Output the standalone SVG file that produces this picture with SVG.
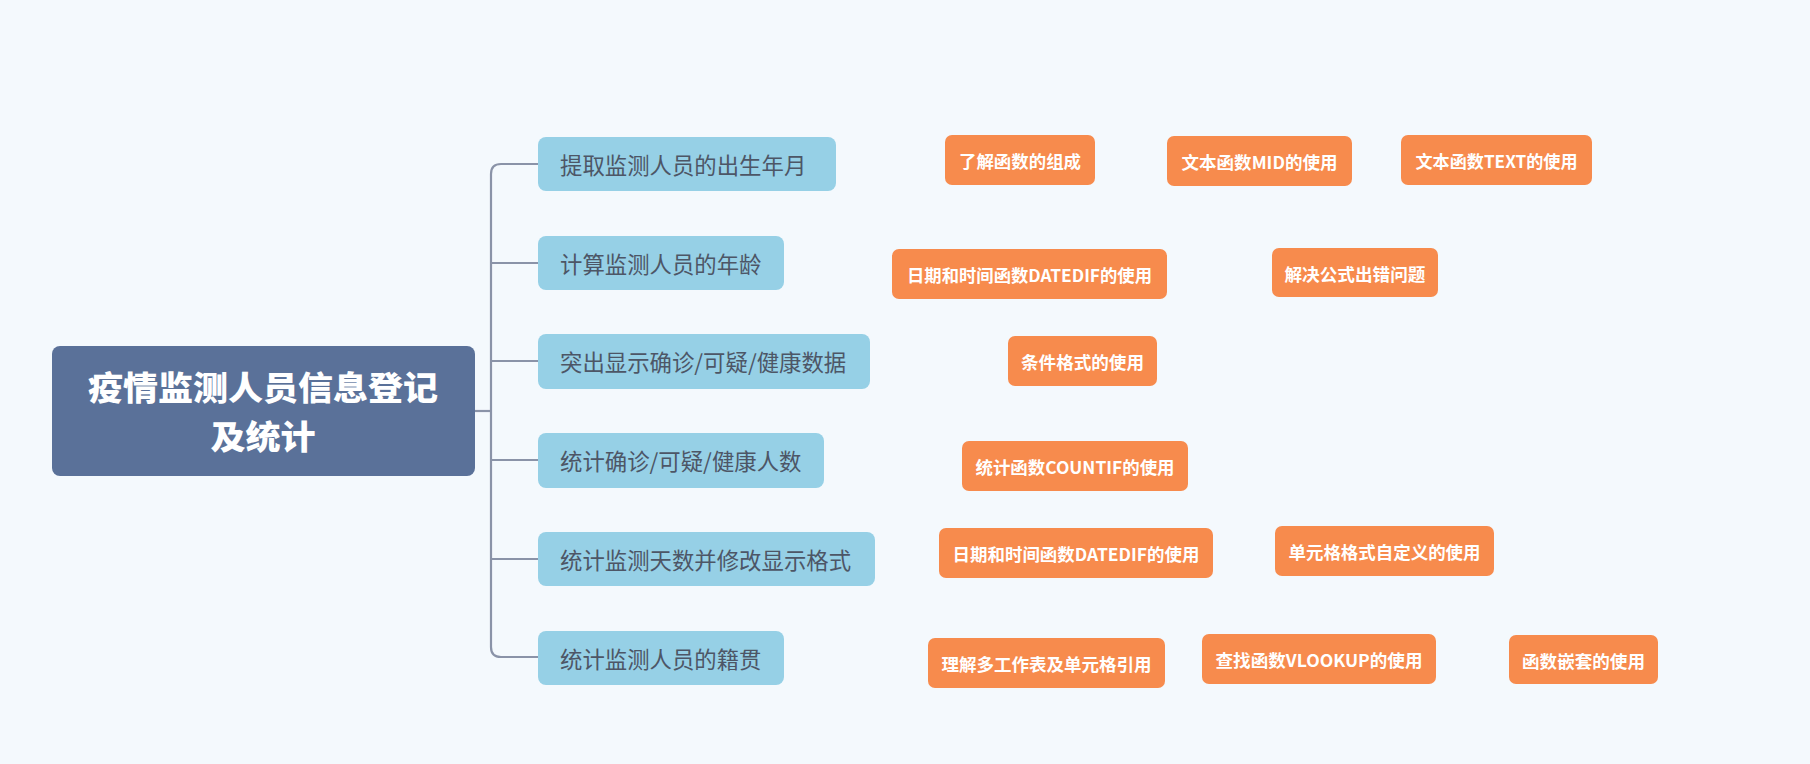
<svg xmlns="http://www.w3.org/2000/svg" width="1810" height="764" viewBox="0 0 1810 764">
<style>
.bg{fill:#f4f9fd}
.root rect{fill:#5a7199}
.root text{fill:#ffffff;font-family:"Noto Sans CJK SC","Noto Sans",sans-serif;font-weight:900;font-size:33px;text-anchor:middle;dominant-baseline:central}
.sub rect{fill:#96d0e6}
.sub text{fill:#4d5666;font-family:"Noto Sans CJK SC","Noto Sans",sans-serif;font-size:22.4px;dominant-baseline:central}
.tip rect{fill:#f78b4d}
.tip text{fill:#ffffff;font-family:"Noto Sans CJK SC","Noto Sans",sans-serif;font-weight:bold;font-size:17.5px;text-anchor:middle;dominant-baseline:central}
.conn path{fill:none;stroke:#8a93a8;stroke-width:2.2}
</style>
<rect class="bg" x="0" y="0" width="1810" height="764"/>
<g class="conn" id="connectors">
<path d="M475 411 H491"/>
<path d="M501 164 H538 M501 164 Q491 164 491 174 V647 Q491 657 501 657 H538"/>
<path d="M491 263 H538"/>
<path d="M491 361 H538"/>
<path d="M491 460 H538"/>
<path d="M491 559 H538"/>
</g>
<g class="root" id="root">
<rect x="52" y="346" width="423" height="130" rx="8"/>
<text x="263" y="386" textLength="350" lengthAdjust="spacingAndGlyphs">疫情监测人员信息登记</text>
<text x="263" y="435" textLength="105" lengthAdjust="spacingAndGlyphs">及统计</text>
</g>
<g class="sub" id="n1"><rect x="538" y="137" width="298" height="54" rx="8"/><text x="560" y="164">提取监测人员的出生年月</text></g>
<g class="sub" id="n2"><rect x="538" y="236" width="246" height="54" rx="8"/><text x="560" y="263">计算监测人员的年龄</text></g>
<g class="sub" id="n3"><rect x="538" y="334" width="332" height="55" rx="8"/><text x="560" y="361">突出显示确诊/可疑/健康数据</text></g>
<g class="sub" id="n4"><rect x="538" y="433" width="286" height="55" rx="8"/><text x="560" y="460">统计确诊/可疑/健康人数</text></g>
<g class="sub" id="n5"><rect x="538" y="532" width="337" height="54" rx="8"/><text x="560" y="559">统计监测天数并修改显示格式</text></g>
<g class="sub" id="n6"><rect x="538" y="631" width="246" height="54" rx="8"/><text x="560" y="658">统计监测人员的籍贯</text></g>
<g class="tip" id="t1"><rect x="945" y="135" width="150" height="50" rx="7"/><text x="1020" y="160" textLength="122" lengthAdjust="spacingAndGlyphs">了解函数的组成</text></g>
<g class="tip" id="t2"><rect x="1167" y="136" width="185" height="50" rx="7"/><text x="1259.5" y="161" textLength="156" lengthAdjust="spacingAndGlyphs">文本函数MID的使用</text></g>
<g class="tip" id="t3"><rect x="1401" y="135" width="191" height="50" rx="7"/><text x="1496.5" y="160" textLength="162" lengthAdjust="spacingAndGlyphs">文本函数TEXT的使用</text></g>
<g class="tip" id="t4"><rect x="892" y="249" width="275" height="50" rx="7"/><text x="1029.5" y="274" textLength="245" lengthAdjust="spacingAndGlyphs">日期和时间函数DATEDIF的使用</text></g>
<g class="tip" id="t5"><rect x="1272" y="248" width="166" height="49" rx="7"/><text x="1355" y="273" textLength="141" lengthAdjust="spacingAndGlyphs">解决公式出错问题</text></g>
<g class="tip" id="t6"><rect x="1008" y="336" width="149" height="50" rx="7"/><text x="1082.5" y="361" textLength="123" lengthAdjust="spacingAndGlyphs">条件格式的使用</text></g>
<g class="tip" id="t7"><rect x="962" y="441" width="226" height="50" rx="7"/><text x="1075" y="466" textLength="199" lengthAdjust="spacingAndGlyphs">统计函数COUNTIF的使用</text></g>
<g class="tip" id="t8"><rect x="939" y="528" width="274" height="50" rx="7"/><text x="1076" y="553" textLength="247" lengthAdjust="spacingAndGlyphs">日期和时间函数DATEDIF的使用</text></g>
<g class="tip" id="t9"><rect x="1275" y="526" width="219" height="50" rx="7"/><text x="1384.5" y="551" textLength="192" lengthAdjust="spacingAndGlyphs">单元格格式自定义的使用</text></g>
<g class="tip" id="t10"><rect x="928" y="638" width="237" height="50" rx="7"/><text x="1046.5" y="663" textLength="210" lengthAdjust="spacingAndGlyphs">理解多工作表及单元格引用</text></g>
<g class="tip" id="t11"><rect x="1202" y="634" width="234" height="50" rx="7"/><text x="1319" y="659" textLength="207" lengthAdjust="spacingAndGlyphs">查找函数VLOOKUP的使用</text></g>
<g class="tip" id="t12"><rect x="1509" y="635" width="149" height="49" rx="7"/><text x="1583.5" y="660" textLength="123" lengthAdjust="spacingAndGlyphs">函数嵌套的使用</text></g>
</svg>
